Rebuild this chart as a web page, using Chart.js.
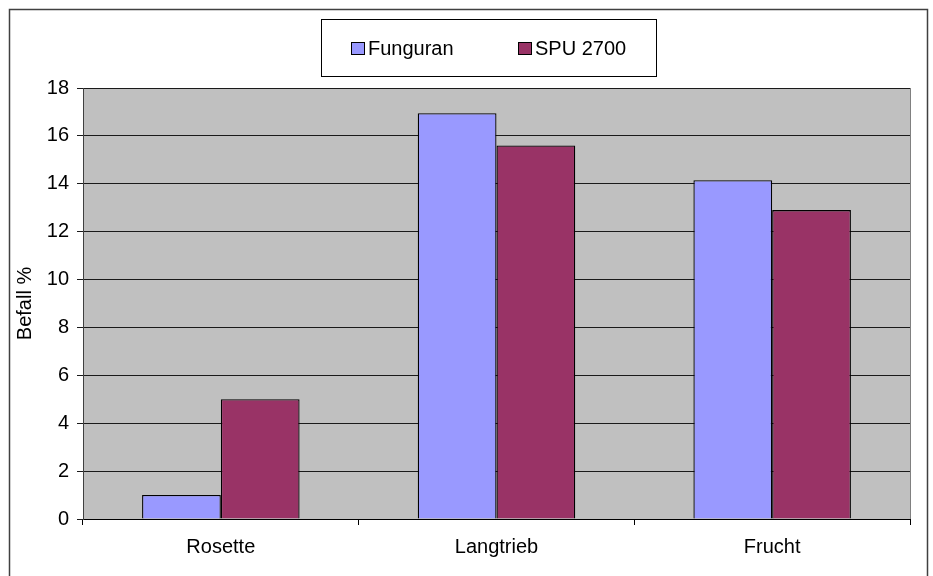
<!DOCTYPE html>
<html>
<head>
<meta charset="utf-8">
<script src="https://cdn.jsdelivr.net/npm/chart.js@4.4.1/dist/chart.umd.min.js"></script>
<style>
html,body{margin:0;padding:0;background:#fff;}
#wrap{position:relative;width:933px;height:576px;}
</style>
</head>
<body>
<div id="wrap"><canvas id="c" width="933" height="576"></canvas></div>
<script>
const categories = ['Rosette', 'Langtrieb', 'Frucht'];
const funguran = [1.0, 16.95, 14.15];
const spu2700 = [5.0, 15.6, 12.9];
const seriesNames = ['Funguran', 'SPU 2700'];
const yTicks = [0, 2, 4, 6, 8, 10, 12, 14, 16, 18];

const FONT = 'Arial, "Liberation Sans", sans-serif';
const FS = 20;

const framePlugin = {
  id: 'frame',
  beforeDraw(chart) {
    const ctx = chart.ctx, a = chart.chartArea;
    ctx.save();
    ctx.fillStyle = '#fff';
    ctx.fillRect(0, 0, chart.width, chart.height);
    ctx.strokeStyle = '#404040';
    ctx.lineWidth = 1.5;
    ctx.beginPath();
    ctx.moveTo(9.5, 580); ctx.lineTo(9.5, 9.5); ctx.lineTo(927.5, 9.5); ctx.lineTo(927.5, 580);
    ctx.stroke();
    ctx.fillStyle = '#C0C0C0';
    ctx.fillRect(a.left, a.top, a.right - a.left, a.bottom - a.top);
    ctx.strokeStyle = '#808080';
    ctx.lineWidth = 1;
    ctx.strokeRect(a.left + 0.5, a.top + 0.5, a.right - a.left, a.bottom - a.top);
    ctx.restore();
  },
  afterDraw(chart) {
    const ctx = chart.ctx;
    ctx.save();
    ctx.strokeStyle = '#000';
    ctx.lineWidth = 1;
    ctx.strokeRect(321.5, 19.5, 335, 57);
    const items = [
      {x: 351, label: seriesNames[0], color: chart.data.datasets[0].backgroundColor},
      {x: 518, label: seriesNames[1], color: chart.data.datasets[1].backgroundColor}
    ];
    ctx.font = FS + 'px ' + FONT;
    ctx.textBaseline = 'middle';
    ctx.textAlign = 'left';
    items.forEach(it => {
      ctx.fillStyle = it.color;
      ctx.fillRect(it.x, 42, 14, 13);
      ctx.strokeStyle = '#000';
      ctx.strokeRect(it.x + 0.5, 42.5, 13, 12);
      ctx.fillStyle = '#000';
      ctx.fillText(it.label, it.x + 17, 49);
    });
    ctx.restore();
  }
};

new Chart(document.getElementById('c'), {
  type: 'bar',
  data: {
    labels: categories,
    datasets: [
      {label: seriesNames[0], data: funguran, backgroundColor: '#9999FF', borderColor: '#000', borderWidth: 1.3,
       categoryPercentage: 2/3.5, barPercentage: 1},
      {label: seriesNames[1], data: spu2700, backgroundColor: '#993366', borderColor: '#000', borderWidth: 1.3,
       categoryPercentage: 2/3.5, barPercentage: 1}
    ]
  },
  options: {
    responsive: false,
    animation: false,
    layout: {padding: {top: 88, left: 0, right: 23, bottom: 0}},
    plugins: {legend: {display: false}, tooltip: {enabled: false}},
    scales: {
      x: {
        offset: true,
        afterFit(s) { s.height = 57; },
        grid: {offset: true, drawOnChartArea: false, drawTicks: true, tickLength: 6, color: '#000'},
        border: {color: '#000', width: 1},
        ticks: {color: '#000', font: {size: FS, family: FONT}, padding: 10}
      },
      y: {
        min: 0, max: 18,
        afterFit(s) { s.width = 83; },
        afterBuildTicks(s) { s.ticks = yTicks.map(v => ({value: v})); },
        grid: {color: '#1a1a1a', tickLength: 6, drawTicks: true},
        border: {color: '#404040', width: 1},
        ticks: {color: '#000', font: {size: FS, family: FONT}, padding: 8},
        title: {display: true, text: 'Befall %', color: '#000', font: {size: FS, family: FONT}, padding: {top: 13, bottom: 0}}
      }
    }
  },
  plugins: [framePlugin]
});
</script>
</body>
</html>
